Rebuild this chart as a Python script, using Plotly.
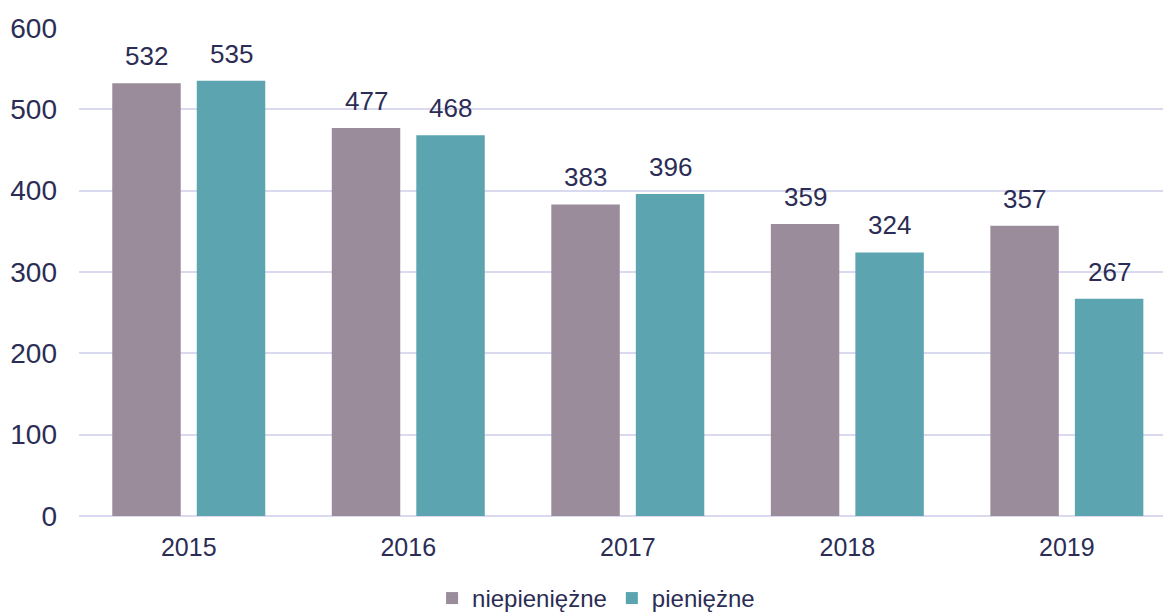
import plotly.graph_objects as go

# dane z wykresu
years = ["2015", "2016", "2017", "2018", "2019"]
niepieniezne = [532, 477, 383, 359, 357]
pieniezne = [535, 468, 396, 324, 267]

text_color = "#2b2d55"
grid_color = "#d9d9ef"
font = "Liberation Sans, Arial, sans-serif"

fig = go.Figure()
fig.add_trace(go.Bar(name="niepieniężne", x=years, y=niepieniezne,
                     marker_color="#9a8c9b", marker_line_width=0))
fig.add_trace(go.Bar(name="pieniężne", x=years, y=pieniezne,
                     marker_color="#5ca4b0", marker_line_width=0))

# etykiety nad słupkami
for i, yr in enumerate(years):
    for vals, shift in ((niepieniezne, -0.5), (pieniezne, 0.5)):
        fig.add_annotation(x=i + shift * 0.385, y=vals[i], text=str(vals[i]),
                           showarrow=False, yanchor="bottom", yshift=10,
                           font=dict(size=26, color=text_color, family=font))

fig.update_layout(
    width=1163, height=613,
    margin=dict(l=79, r=0, t=28, b=97, autoexpand=False),
    plot_bgcolor="white", paper_bgcolor="white",
    barmode="group", bargap=0.23, bargroupgap=0.19,
    font=dict(family=font, color=text_color),
    showlegend=True,
    legend=dict(orientation="h", x=0.477, xanchor="center", y=-0.169, yanchor="middle",
                font=dict(size=24, color=text_color), itemwidth=30, tracegroupgap=0),
)
fig.update_xaxes(type="category", range=[-0.5, 4.438], showgrid=False, automargin=False,
                 showline=False, ticks="", ticklabelstandoff=14,
                 tickfont=dict(size=25, color=text_color))
fig.update_yaxes(range=[0, 600], dtick=100, showgrid=True, gridcolor=grid_color, gridwidth=2,
                 zeroline=True, zerolinecolor=grid_color, zerolinewidth=2, automargin=False,
                 ticks="", ticklabelstandoff=21, tickfont=dict(size=28, color=text_color))

# bez marginesu strony, żeby wykres zaczynał się w rogu okna
fig.write_html("out.html", config={"displayModeBar": False},
               post_script="document.body.style.margin='0';")
